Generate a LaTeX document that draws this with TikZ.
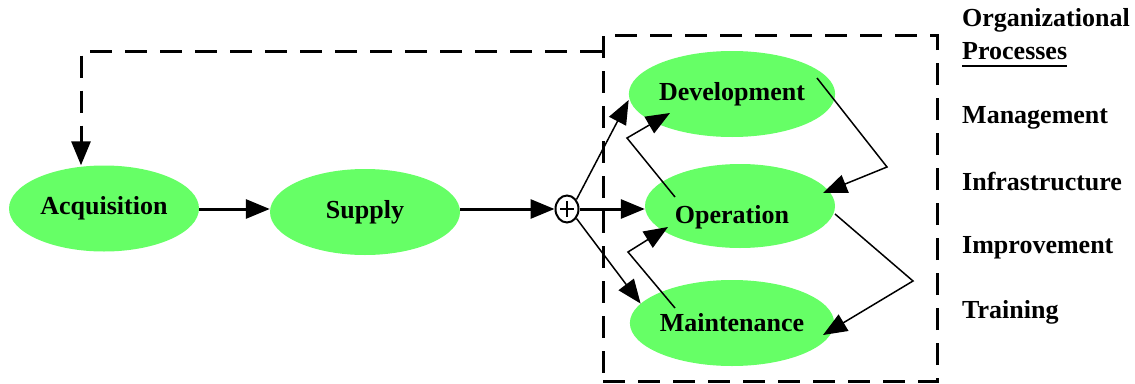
\documentclass[tikz,border=0pt]{standalone}
\usepackage{fontspec}
\setmainfont{Liberation Serif}
\usetikzlibrary{shapes.geometric,arrows.meta,calc}
\definecolor{procgreen}{HTML}{66FF66}
\begin{document}
\begin{tikzpicture}[x=1pt,y=-1pt,
  proc/.style={ellipse, fill=procgreen, minimum width=190pt, minimum height=86pt, inner sep=0pt, font=\fontsize{26}{28}\selectfont\bfseries},
  lbl/.style={anchor=base west, inner sep=0pt, font=\fontsize{26}{28}\selectfont\bfseries},
  tip/.style={-{Triangle[length=24pt,width=19pt]}},
  thickline/.style={line width=3pt, tip},
  thinline/.style={line width=1.5pt, tip},
  dashline/.style={line width=3pt, dash pattern=on 22pt off 13pt},
]
\useasboundingbox (0,0) rectangle (1135,383);

% dashed box
\node[draw, dashline, minimum width=334pt, minimum height=346pt, inner sep=0pt] (box) at (770,208) {};

% process ellipses
\node[proc] (acq) at (104,208.5) {Acquisition};
\node[proc] (sup) at (365,212) {Supply};
\node[proc] (dev) at (732,94) {Development};
\node[proc, minimum height=84pt] (op) at (740,206) {\hspace*{-16pt}\raisebox{-17pt}[0pt][0pt]{Operation}};
\node[proc] (maint) at (732,323) {Maintenance};

% OR junction
\node[ellipse, draw, line width=2pt, minimum width=23pt, minimum height=27pt, inner sep=0pt] (or) at (567,209) {};
\draw[line width=2pt] ($(or.center)+(-7,0)$) -- ($(or.center)+(7,0)$);
\draw[line width=2pt] ($(or.center)+(0,-8)$) -- ($(or.center)+(0,8)$);

% main flow
\draw[thickline] (acq.east |- or.west) -- (sup.west |- or.west);
\draw[thickline] (sup.east |- or.west) -- (or.west);
\draw[thickline] (or.east) -- (or.east -| op.west);

% OR fan-out
\draw[thinline] (or.45) -- ([yshift=-6pt]dev.west);
\draw[thinline] (or.-45) -- (maint.168);

% crossing feedback arrows
\draw[thinline] ($(op.center)+(-65,-9)$) -- ++(-48,-59) -- ($(dev.center)+(-62,19)$);
\draw[thinline] ($(maint.center)+(-57,-15)$) -- ++(-47,-56) -- ($(op.center)+(-72,21)$);

% right side arrows
\draw[thinline] ($(dev.center)+(85,-16)$) -- ++(70,89) -- ($(op.center)+(83,-13)$);
\draw[thinline] ($(op.center)+(95,8)$) -- ++(78,67) -- ($(maint.center)+(91,12)$);

% feedback to acquisition
\coordinate (fb) at (81,51);
\draw[dashline, tip] (box.west |- fb) -- (fb) -- (fb |- acq.north);

% organizational processes
\node[lbl] (org) at (962,26) {Organizational};
\node[lbl] (procs) at (962,59) {Processes};
\draw[line width=2pt] ([yshift=-7pt]procs.base west) -- ([yshift=-7pt]procs.base east);
\node[lbl] (mgmt) at (962,123) {Management};
\node[lbl] (infra) at (962,190) {Infrastructure};
\node[lbl] (impr) at (962,253) {Improvement};
\node[lbl] (train) at (962,318) {Training};
\end{tikzpicture}
\end{document}
